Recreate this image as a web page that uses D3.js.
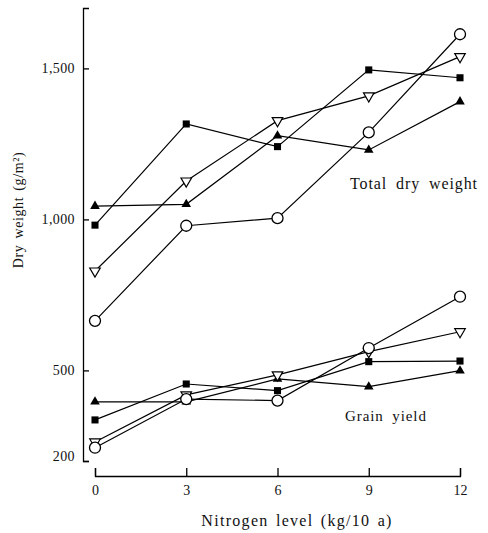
<!DOCTYPE html>
<html>
<head>
<meta charset="utf-8">
<script src="https://cdn.jsdelivr.net/npm/d3@7"></script>
<style>
  body { margin: 0; background: #fff; }
  svg text { font-family: "Liberation Serif", "Times New Roman", "DejaVu Serif", serif !important; }
</style>
</head>
<body>
<svg id="chart" width="488" height="533"></svg>
<script>
// ---- data ----
const nitrogenLevels = [0, 3, 6, 9, 12];
const xTickValues = [0, 3, 6, 9, 12];
const yTickValues = [200, 500, 1000, 1500];
const yTickLabels = ["200", "500", "1,000", "1,500"];

// Total dry weight (g/m2)
const tdwSquare   = [981, 1316, 1241, 1495, 1469];
const tdwTriangle = [1044, 1050, 1277, 1230, 1390];
const tdwOpenTri  = [829, 1127, 1327, 1409, 1539];
const tdwCircle   = [664, 979, 1004, 1288, 1613];

// Grain yield (g/m2)
const gySquare   = [336, 455, 433, 529, 531];
const gyTriangle = [396, 396, 472, 446, 499];
const gyOpenTri  = [263, 419, 485, 562, 628];
const gyCircle   = [244, 405, 400, 574, 744];

const series = [
  { values: tdwSquare, marker: "square" },
  { values: tdwTriangle, marker: "triangle" },
  { values: tdwOpenTri, marker: "opentri" },
  { values: tdwCircle, marker: "circle" },
  { values: gySquare, marker: "square" },
  { values: gyTriangle, marker: "triangle" },
  { values: gyOpenTri, marker: "opentri" },
  { values: gyCircle, marker: "circle" }
];

// ---- layout ----
const FONT = "'Liberation Serif', 'Times New Roman', 'DejaVu Serif', serif";
const svg = d3.select("#chart");
const x = d3.scaleLinear().domain([0, 12]).range([95, 460]);
const y = d3.scaleLinear().domain([200, 1700]).range([461, 8]);
const yAxisX = 83;
const xAxisY = 476;

// y axis (inward ticks, end hooks)
const yAxis = d3.axisLeft(y)
  .tickValues(yTickValues)
  .tickFormat((d, i) => yTickLabels[i])
  .tickSizeInner(-6)
  .tickSizeOuter(-6)
  .tickPadding(8);
const gy = svg.append("g").attr("transform", `translate(${yAxisX},0)`).call(yAxis)
  .attr("font-family", FONT);
gy.selectAll("path, line").attr("stroke", "#000").attr("stroke-width", 1.3);
gy.selectAll("text")
  .attr("fill", "#111")
  .style("font-size", "14px")
  .style("letter-spacing", "0.4px")
  .attr("dy", d => d === 200 ? "-0.05em" : "0.32em");
gy.select(".domain").attr("fill", "none");

// x axis (separate, upward ticks)
const xAxis = d3.axisBottom(x)
  .tickValues(xTickValues)
  .tickFormat(d3.format("d"))
  .tickSizeInner(-8)
  .tickSizeOuter(-8)
  .tickPadding(9);
const gx = svg.append("g").attr("transform", `translate(0,${xAxisY})`).call(xAxis)
  .attr("font-family", FONT);
gx.selectAll("path, line").attr("stroke", "#000").attr("stroke-width", 1.3);
gx.selectAll("text").attr("fill", "#111").style("font-size", "14px");
gx.select(".domain").attr("fill", "none");

// lines
const line = d3.line()
  .x((d, i) => x(nitrogenLevels[i]))
  .y(d => y(d));

svg.append("g").selectAll("path")
  .data(series)
  .join("path")
  .attr("d", s => line(s.values))
  .attr("fill", "none")
  .attr("stroke", "#000")
  .attr("stroke-width", 1.2);

// markers
const symSquare = d3.symbol().type(d3.symbolSquare).size(50)();
const symTri = d3.symbol().type(d3.symbolTriangle).size(40)();
const symOpenTri = d3.symbol().type(d3.symbolTriangle).size(48)();

series.forEach(s => {
  const g = svg.append("g");
  s.values.forEach((v, i) => {
    const cx = x(nitrogenLevels[i]), cy = y(v);
    if (s.marker === "circle") {
      g.append("circle").attr("cx", cx).attr("cy", cy).attr("r", 5.5)
        .attr("fill", "#fff").attr("stroke", "#000").attr("stroke-width", 1.3);
    } else if (s.marker === "square") {
      g.append("path").attr("d", symSquare).attr("transform", `translate(${cx},${cy})`)
        .attr("fill", "#000");
    } else if (s.marker === "triangle") {
      g.append("path").attr("d", symTri).attr("transform", `translate(${cx},${cy})`)
        .attr("fill", "#000");
    } else {
      g.append("path").attr("d", symOpenTri).attr("transform", `translate(${cx},${cy}) rotate(180)`)
        .attr("fill", "#fff").attr("stroke", "#000").attr("stroke-width", 1.2);
    }
  });
});

// annotations
svg.append("text").attr("x", 350).attr("y", 189).attr("font-family", FONT)
  .style("font-size", "16px").style("letter-spacing", "0.9px").style("word-spacing", "4px")
  .attr("fill", "#111").text("Total dry weight");
svg.append("text").attr("x", 345).attr("y", 421).attr("font-family", FONT)
  .style("font-size", "15px").style("letter-spacing", "0.9px").style("word-spacing", "4px")
  .attr("fill", "#111").text("Grain yield");

// axis titles
svg.append("text").attr("x", 297).attr("y", 526).attr("text-anchor", "middle").attr("font-family", FONT)
  .style("font-size", "16px").style("letter-spacing", "1.3px").style("word-spacing", "2px")
  .attr("fill", "#111").text("Nitrogen level (kg/10 a)");
svg.append("text")
  .attr("transform", "translate(23,210) rotate(-90)")
  .attr("text-anchor", "middle").attr("font-family", FONT)
  .style("font-size", "14px").style("letter-spacing", "0.6px").style("word-spacing", "2px")
  .attr("fill", "#111")
  .text("Dry weight (g/m²)");
</script>
</body>
</html>
